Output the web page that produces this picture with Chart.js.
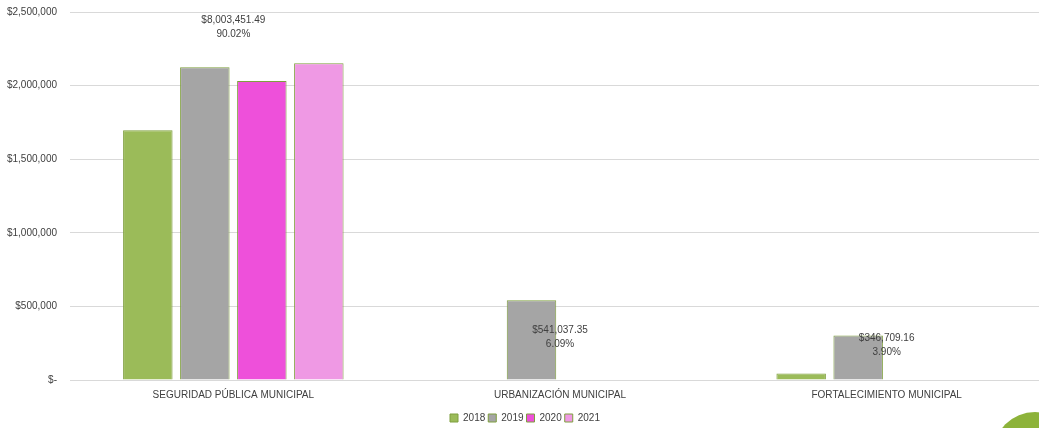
<!DOCTYPE html>
<html>
<head>
<meta charset="utf-8">
<script src="https://cdn.jsdelivr.net/npm/chart.js@4.4.1/dist/chart.umd.min.js"></script>
<style>
  html, body { margin: 0; padding: 0; background: #fff; overflow: hidden; }
  #wrap { position: relative; width: 1039px; height: 428px; overflow: hidden; }
  #chart { position: absolute; left: 0; top: -7px; }
  #dot { position: absolute; left: 993px; top: 412px; width: 84px; height: 84px; border-radius: 50%; background: #8DB33A; }
</style>
</head>
<body>
<div id="wrap">
  <!-- plot runs a little past the right edge, like the original screenshot -->
  <canvas id="chart" width="1060" height="440"></canvas>
  <div id="dot"></div>
</div>
<script>
// Categories and series
const categories = ['SEGURIDAD PÚBLICA MUNICIPAL', 'URBANIZACIÓN MUNICIPAL', 'FORTALECIMIENTO MUNICIPAL'];
const years = ['2018', '2019', '2020', '2021'];
const values2018 = [1696000, null, 44000];
const values2019 = [2125000, 541037.35, 302709.16];
const values2020 = [2030451.49, null, null];
const values2021 = [2152000, null, null];
const colors = ['#9BBB59', '#A5A5A5', '#EE50DA', '#EF99E4'];

// Total labels per category
const totalLabels = ['$8,003,451.49', '$541,037.35', '$346,709.16'];
const shareLabels = ['90.02%', '6.09%', '3.90%'];
const labelAnchor = [2395000, 292000, 238000]; // y value where label sits

const yTicks = [0, 500000, 1000000, 1500000, 2000000, 2500000];

function money(v) {
    if (v === 0) return '$-';
    return '$' + v.toLocaleString('en-US');
}

const totalsPlugin = {
    id: 'totals',
    afterDatasetsDraw(chart) {
        const ctx = chart.ctx;
        const x = chart.scales.x, y = chart.scales.y;
        ctx.save();
        ctx.font = '10px "Liberation Sans", Arial, sans-serif';
        ctx.fillStyle = '#404040';
        ctx.textAlign = 'center';
        ctx.textBaseline = 'middle';
        categories.forEach((c, i) => {
            const px = x.getPixelForValue(i);
            const py = y.getPixelForValue(labelAnchor[i]);
            ctx.fillText(totalLabels[i], px, py - 7);
            ctx.fillText(shareLabels[i], px, py + 7);
        });
        ctx.restore();
    }
};

const series = [values2018, values2019, values2020, values2021];

new Chart(document.getElementById('chart'), {
    type: 'bar',
    data: {
        labels: categories,
        datasets: years.map((yr, i) => ({
            label: yr,
            data: series[i],
            backgroundColor: colors[i],
            borderColor: '#7F9F3F',
            borderWidth: 1,
            barPercentage: 0.868,
            categoryPercentage: 0.698
        }))
    },
    options: {
        responsive: false,
        animation: false,
        layout: { padding: { top: 0, right: 10, left: 0, bottom: 0 } },
        scales: {
            x: {
                grid: { display: false, drawTicks: false },
                border: { display: true, color: '#D9D9D9' },
                ticks: {
                    color: '#404040',
                    padding: 9,
                    maxRotation: 0,
                    font: { size: 10, family: '"Liberation Sans", Arial, sans-serif' }
                }
            },
            y: {
                min: 0,
                max: 2500000,
                afterBuildTicks(axis) { axis.ticks = yTicks.map(v => ({ value: v })); },
                afterFit(axis) { axis.width = 70; },
                grid: { color: '#D9D9D9', drawTicks: false },
                border: { display: false },
                ticks: {
                    color: '#404040',
                    padding: 13,
                    font: { size: 10, family: '"Liberation Sans", Arial, sans-serif' },
                    callback: v => money(v)
                }
            }
        },
        plugins: {
            legend: {
                position: 'bottom',
                labels: {
                    boxWidth: 8,
                    boxHeight: 8,
                    padding: 3,
                    color: '#404040',
                    font: { size: 10, family: '"Liberation Sans", Arial, sans-serif' }
                }
            },
            tooltip: { enabled: false }
        }
    },
    plugins: [totalsPlugin]
});
</script>
</body>
</html>
